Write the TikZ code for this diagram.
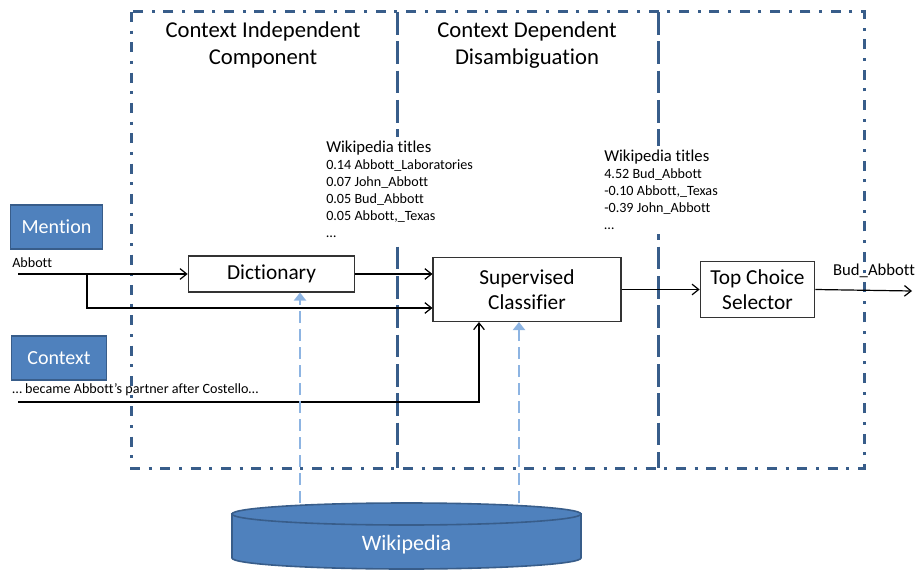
\documentclass[tikz,border=0pt]{standalone}
\usepackage{fontspec}
\setmainfont{Carlito}[Ligatures=NoCommon]
\usepackage{tikz}
\usetikzlibrary{arrows.meta,calc,positioning}
\usepackage{xcolor}
\definecolor{FrameBlue}{HTML}{385D8A}
\definecolor{BoxBlue}{HTML}{4F81BD}
\definecolor{FeedBlue}{HTML}{8DB4E2}

\tikzset{
  frameline/.style={draw=FrameBlue,line width=2.25pt,dash pattern=on 7.5pt off 6.5pt on 2.25pt off 6.5pt},
  divider/.style={draw=FrameBlue,line width=2.25pt,dash pattern=on 17pt off 5pt},
  procbox/.style={draw=black!80,fill=white,line width=0.8pt,align=center,font=\fontsize{16}{19}\selectfont},
  inbox/.style={draw=FrameBlue,fill=BoxBlue,line width=1.2pt,text=white,font=\fontsize{15}{18}\selectfont},
  flow/.style={draw=black,line width=0.9pt,-{Straight Barb[length=5pt,width=8pt]}},
  feed/.style={draw=FeedBlue,line width=1.6pt,dash pattern=on 9pt off 4.5pt,-{Triangle[length=6pt,width=9pt]}},
  small/.style={font=\fontsize{10.6}{12.75}\selectfont,inner sep=0pt},
  titlelist/.style={small,fill=white,inner sep=3pt,anchor=north west,align=left},
  heading/.style={font=\fontsize{17}{20.25}\selectfont,align=center,inner sep=0pt}
}

\begin{document}
\begin{tikzpicture}[x=0.75pt,y=-0.75pt]
   \useasboundingbox (0,0) rectangle (916,570);

   % frame and columns
   \draw[frameline] (131,12) rectangle (864,468);
   \foreach \xpos in {397,658} {
    \draw[divider] (\xpos,12) -- (\xpos,468);
   }
   \node[heading,anchor=north] (indep) at (263,21) {Context Independent\\Component};
   \node[heading,anchor=north] (dep) at (527,21) {Context Dependent\\Disambiguation};

   % inputs
   \node[inbox,minimum width=69pt,minimum height=33pt] (mention) at (56.5,227) {Mention};
   \node[inbox,minimum width=71pt,minimum height=33pt] (context) at (59,358) {Context};
   \node[small,anchor=west] (abbott) at (12,263) {Abbott};
   \node[small,anchor=west] (sentence) at (12,390) {\dots\ became Abbott’s partner after Costello\dots};

   % processing boxes
   \node[procbox,minimum width=125pt,minimum height=27pt] (dict) at (271.5,274) {Dictionary};
   \node[procbox,minimum width=141pt,minimum height=48pt] (cls) at (527,289.5) {Supervised\\Classifier};
   \node[procbox,minimum width=86pt,minimum height=42pt] (top) at (757.5,289.5) {Top Choice\\Selector};

   % candidate lists
   \node[titlelist] (listA) at (322,137)
    {{\fontsize{12.5}{12.75}\selectfont Wikipedia titles}\\0.14 Abbott\_Laboratories\\0.07 John\_Abbott\\0.05 Bud\_Abbott\\0.05 Abbott,\_Texas\\\dots};
   \node[titlelist] (listB) at (600,146)
    {{\fontsize{12.5}{12.75}\selectfont Wikipedia titles}\\4.52 Bud\_Abbott\\-0.10 Abbott,\_Texas\\-0.39 John\_Abbott\\\dots};

   % wikipedia store
   \draw[inbox] (232,514) -- (232,558) arc[start angle=180,end angle=0,x radius=174.5,y radius=11] -- (581,514) -- cycle;
   \draw[inbox] (406.5,514) ellipse[x radius=174.5,y radius=11];
   \node[text=white,font=\fontsize{16.5}{19}\selectfont] (wiki) at (406.5,545) {Wikipedia};
   \coordinate (feedA) at (300,503);
   \coordinate (feedB) at (519,503);

   % connectors
   \coordinate (abbottin) at (18,274);
   \coordinate (split) at (87,274);
   \coordinate (ctxin) at (18,402);
   \coordinate (out) at (912,291);
   \draw[flow] (abbottin) -- (dict.west);
   \draw[flow] (split) |- (split |- 0,308) -- (cls.west |- 0,308);
   \draw[flow] (dict.east) -- (dict.east -| cls.west);
   \draw[flow] (ctxin) -| (cls.south -| 479,0);
   \draw[flow] (cls.east |- top.west) -- (top.west);
   \draw[flow] (top.east) -- (out);
   \node[font=\fontsize{12.5}{14}\selectfont,inner sep=0pt] (answer) at (874,271) {Bud\_Abbott};

   \draw[feed] (feedA) -- (feedA |- dict.south);
   \draw[feed] (feedB) -- (feedB |- cls.south);
  \end{tikzpicture}
\end{document}
